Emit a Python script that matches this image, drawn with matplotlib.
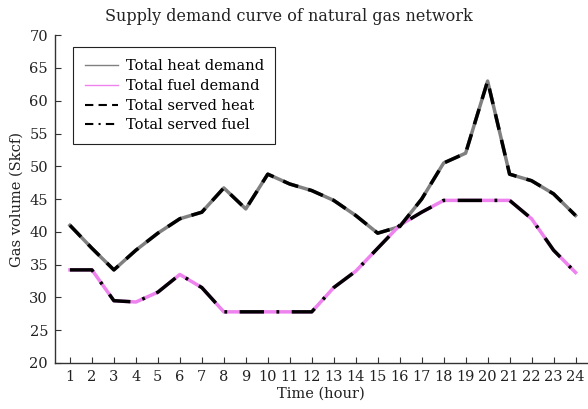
import matplotlib.pyplot as plt
from matplotlib.lines import Line2D

plt.rcParams['font.family'] = ['DejaVu Serif']
plt.rcParams['font.size'] = 10.5

# Data
hours = list(range(1, 25))
heat_demand = [41.0, 37.5, 34.2, 37.2, 39.8, 42.0, 43.0, 46.7, 43.5, 48.8, 47.3, 46.3,
               44.8, 42.5, 39.8, 40.8, 45.0, 50.5, 52.0, 63.0, 48.8, 47.8, 45.8, 42.5]
fuel_demand = [34.2, 34.2, 29.5, 29.3, 30.8, 33.5, 31.5, 27.8, 27.8, 27.8, 27.8, 27.8,
               31.5, 34.0, 37.5, 41.0, 43.0, 44.8, 44.8, 44.8, 44.8, 42.0, 37.2, 33.8]
served_heat = heat_demand
served_fuel = fuel_demand

fig = plt.figure(figsize=(5.88, 4.09), dpi=100)
ax = fig.add_axes([0.0935, 0.1125, 0.904, 0.8015])

ax.plot(hours, heat_demand, color='gray', lw=2.5)
ax.plot(hours, fuel_demand, color='violet', lw=2.5)
ax.plot(hours, served_heat, color='black', lw=2.5, dashes=(4.6, 3.0))
ax.plot(hours, served_fuel, color='black', lw=2.5, dashes=(7.0, 3.6, 0.8, 3.6))

ax.set_xlim(0.32, 24.5)
ax.set_ylim(20, 70)
ax.set_xticks(hours)
ax.set_yticks(range(20, 71, 5))
ax.tick_params(direction='in', length=4, color='#333333', labelcolor='#222222',
               labelsize=10.5, pad=5)
for side in ['top', 'right']:
    ax.spines[side].set_visible(False)
for side in ['left', 'bottom']:
    ax.spines[side].set_color('#333333')
    ax.spines[side].set_linewidth(1.0)

ax.set_title('Supply demand curve of natural gas network', fontsize=11.5, color='#222222',
             pad=10, x=0.44)
ax.set_xlabel('Time (hour)', color='#222222', labelpad=2)
ax.set_ylabel('Gas volume (Skcf)', color='#222222')

handles = [
    Line2D([], [], color='gray', lw=1),
    Line2D([], [], color='violet', lw=1),
    Line2D([], [], color='black', lw=1.5, dashes=(4, 2.5)),
    Line2D([], [], color='black', lw=1.5, dashes=(4, 2.5, 1, 2.5)),
]
labels = ['Total heat demand', 'Total fuel demand', 'Total served heat', 'Total served fuel']
leg = ax.legend(handles, labels, loc='upper left', bbox_to_anchor=(0.034, 0.963),
                fancybox=False, framealpha=1, edgecolor='#222222', handlelength=2.3,
                labelspacing=0.4, borderpad=0.8, handletextpad=0.5, borderaxespad=0)
leg.get_frame().set_linewidth(0.8)

fig.savefig('out.png', dpi=100)
